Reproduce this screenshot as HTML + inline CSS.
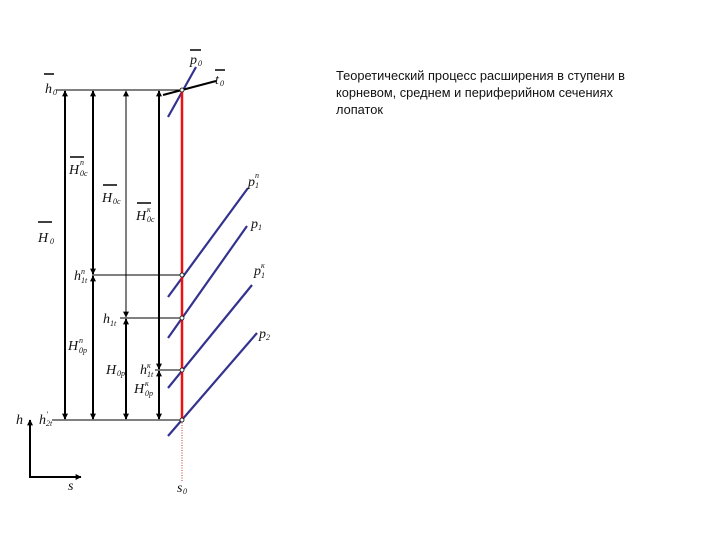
<!DOCTYPE html>
<html><head><meta charset="utf-8"><style>
html,body{margin:0;padding:0;background:#fff;width:720px;height:540px;overflow:hidden}
svg{display:block}
.l{font-family:"Liberation Serif",serif;font-style:italic;font-size:14px;fill:#111}
.s{font-family:"Liberation Serif",serif;font-style:italic;font-size:8px;fill:#111}
.t{font-family:"Liberation Sans","DejaVu Sans",sans-serif;font-size:12.8px;fill:#111}
</style></head><body>
<svg width="720" height="540" viewBox="0 0 720 540">
<defs>
<marker id="a" viewBox="0 0 10 10" refX="9" refY="5" markerUnits="userSpaceOnUse" markerWidth="6" markerHeight="7" orient="auto-start-reverse"><path d="M0,0L10,5L0,10z" fill="#000"/></marker>
</defs>
<g stroke="#000" stroke-width="1">
<line x1="56" y1="90" x2="182" y2="90"/>
<line x1="92" y1="275" x2="182" y2="275"/>
<line x1="120" y1="318" x2="182" y2="318"/>
<line x1="155" y1="370" x2="182" y2="370"/>
<line x1="52" y1="420" x2="182" y2="420"/>
</g>
<g stroke="#000" fill="none">
<line x1="65" y1="91" x2="65" y2="419" stroke-width="2" marker-start="url(#a)" marker-end="url(#a)"/>
<line x1="93" y1="91" x2="93" y2="274" stroke-width="2" marker-start="url(#a)" marker-end="url(#a)"/>
<line x1="93" y1="276" x2="93" y2="419" stroke-width="2" marker-start="url(#a)" marker-end="url(#a)"/>
<line x1="126" y1="91" x2="126" y2="317" stroke-width="1" marker-start="url(#a)" marker-end="url(#a)"/>
<line x1="126" y1="319" x2="126" y2="419" stroke-width="2" marker-start="url(#a)" marker-end="url(#a)"/>
<line x1="159" y1="91" x2="159" y2="369" stroke-width="2" marker-start="url(#a)" marker-end="url(#a)"/>
<line x1="159" y1="371" x2="159" y2="419" stroke-width="2" marker-start="url(#a)" marker-end="url(#a)"/>
</g>
<line x1="30" y1="477" x2="30" y2="420" stroke="#000" stroke-width="2" marker-end="url(#a)"/>
<line x1="29" y1="477" x2="81" y2="477" stroke="#000" stroke-width="2" marker-end="url(#a)"/>
<line x1="182" y1="420" x2="182" y2="482" stroke="#c33" stroke-width="1" stroke-dasharray="1,1.5"/>
<g stroke="#33338f" stroke-width="2.2">
<line x1="168" y1="117" x2="196" y2="67"/>
<line x1="168" y1="297" x2="248" y2="188"/>
<line x1="168" y1="338" x2="247" y2="226"/>
<line x1="168" y1="388" x2="252" y2="285"/>
<line x1="168" y1="436" x2="257" y2="333"/>
</g>
<line x1="163" y1="95" x2="216" y2="81" stroke="#000" stroke-width="2"/>
<line x1="182" y1="90" x2="182" y2="420" stroke="#e11" stroke-width="2.5"/>
<g fill="#fff" stroke="#000" stroke-width="0.8">
<circle cx="182" cy="90" r="2"/><circle cx="182" cy="275" r="2"/><circle cx="182" cy="318" r="2"/><circle cx="182" cy="370" r="2"/><circle cx="182" cy="420" r="2"/>
</g>
<g stroke="#000" stroke-width="1.5">
<line x1="44" y1="74" x2="54" y2="74"/>
<line x1="190" y1="50" x2="201" y2="50"/>
<line x1="215" y1="70" x2="225" y2="70"/>
<line x1="70" y1="157" x2="84" y2="157"/>
<line x1="103" y1="185" x2="117" y2="185"/>
<line x1="137" y1="203" x2="151" y2="203"/>
<line x1="38" y1="222" x2="52" y2="222"/>
</g>
<text class="l" x="45" y="93">h</text><text class="s" x="53" y="95">0</text>
<text class="l" x="190" y="64">p</text><text class="s" x="198" y="66">0</text>
<text class="l" x="215" y="84">t</text><text class="s" x="220" y="86">0</text>
<text class="l" x="69" y="174">H</text><text class="s" x="80" y="165">n</text><text class="s" x="80" y="176">0c</text>
<text class="l" x="102" y="202">H</text><text class="s" x="113" y="204">0c</text>
<text class="l" x="136" y="220">H</text><text class="s" x="147" y="212">к</text><text class="s" x="147" y="222">0c</text>
<text class="l" x="38" y="242">H</text><text class="s" x="50" y="244">0</text>
<text class="l" x="74" y="280">h</text><text class="s" x="81" y="274">n</text><text class="s" x="81" y="283">1t</text>
<text class="l" x="103" y="323">h</text><text class="s" x="110" y="326">1t</text>
<text class="l" x="68" y="350">H</text><text class="s" x="79" y="343">n</text><text class="s" x="79" y="353">0p</text>
<text class="l" x="106" y="374">H</text><text class="s" x="117" y="376">0p</text>
<text class="l" x="140" y="374">h</text><text class="s" x="147" y="368">к</text><text class="s" x="147" y="377">1t</text>
<text class="l" x="134" y="393">H</text><text class="s" x="145" y="386">к</text><text class="s" x="145" y="396">0p</text>
<text class="l" x="39" y="424">h</text><text class="s" x="46" y="417">'</text><text class="s" x="46" y="426">2t</text>
<text class="l" x="16" y="424">h</text>
<text class="l" x="68" y="490">s</text>
<text class="l" x="177" y="492">s</text><text class="s" x="183" y="494">0</text>
<text class="l" x="248" y="186">p</text><text class="s" x="255" y="178">n</text><text class="s" x="255" y="188">1</text>
<text class="l" x="251" y="228">p</text><text class="s" x="258" y="230">1</text>
<text class="l" x="254" y="275">p</text><text class="s" x="261" y="268">к</text><text class="s" x="261" y="278">1</text>
<text class="l" x="259" y="338">p</text><text class="s" x="266" y="340">2</text>
<text class="t" x="336" y="80" textLength="289" lengthAdjust="spacingAndGlyphs">Теоретический процесс расширения в ступени в</text>
<text class="t" x="336" y="97" textLength="277" lengthAdjust="spacingAndGlyphs">корневом, среднем и периферийном сечениях</text>
<text class="t" x="336" y="114">лопаток</text>
</svg>
</body></html>
